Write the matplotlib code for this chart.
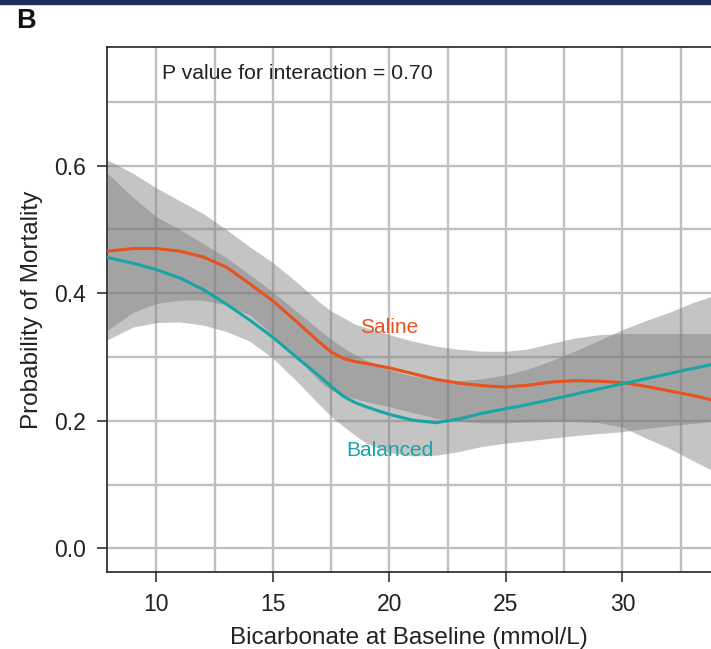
import matplotlib
matplotlib.use("Agg")
import matplotlib.pyplot as plt
from matplotlib.ticker import MultipleLocator
from matplotlib.patches import Rectangle

plt.rcParams['font.family'] = ['Liberation Sans', 'DejaVu Sans']

# bicarbonate at baseline (mmol/L)
bicarb = [7.9, 9, 10, 11, 12, 13, 14, 15, 16, 17, 17.5, 18, 18.5, 19, 20, 21, 22,
          23, 24, 25, 26, 27, 28, 29, 30, 31, 32, 33, 33.8]

# saline arm: fitted probability of mortality and 95% band
saline = [0.466, 0.470, 0.470, 0.466, 0.457, 0.441, 0.415, 0.388, 0.356,
          0.323, 0.308, 0.298, 0.293, 0.290, 0.283, 0.274, 0.265, 0.259, 0.255, 0.253,
          0.256, 0.261, 0.263, 0.262, 0.260, 0.254, 0.247, 0.240, 0.233]
saline_hi = [0.609, 0.588, 0.565, 0.545, 0.525, 0.500, 0.473, 0.448, 0.418,
             0.386, 0.372, 0.362, 0.352, 0.346, 0.335, 0.325, 0.317, 0.312, 0.309, 0.309,
             0.313, 0.322, 0.330, 0.335, 0.337, 0.337, 0.337, 0.337, 0.337]
saline_lo = [0.342, 0.370, 0.384, 0.389, 0.389, 0.382, 0.366, 0.335, 0.300,
             0.262, 0.248, 0.240, 0.235, 0.230, 0.222, 0.213, 0.204, 0.199, 0.197, 0.197,
             0.198, 0.199, 0.199, 0.197, 0.190, 0.173, 0.157, 0.138, 0.123]

# balanced arm
balanced = [0.456, 0.447, 0.437, 0.424, 0.406, 0.383, 0.358, 0.331, 0.300,
            0.270, 0.254, 0.239, 0.229, 0.222, 0.210, 0.201, 0.197, 0.203, 0.212, 0.219,
            0.226, 0.234, 0.242, 0.250, 0.258, 0.266, 0.274, 0.282, 0.288]
balanced_hi = [0.588, 0.550, 0.520, 0.500, 0.478, 0.456, 0.429, 0.402, 0.372,
               0.342, 0.328, 0.315, 0.304, 0.295, 0.280, 0.270, 0.265, 0.263, 0.266, 0.272,
               0.282, 0.295, 0.310, 0.326, 0.343, 0.357, 0.370, 0.385, 0.395]
balanced_lo = [0.327, 0.347, 0.354, 0.355, 0.350, 0.340, 0.325, 0.298, 0.263,
               0.225, 0.207, 0.192, 0.178, 0.165, 0.150, 0.145, 0.146, 0.152, 0.160, 0.165,
               0.169, 0.173, 0.177, 0.180, 0.183, 0.188, 0.192, 0.196, 0.199]

xticks = [10, 15, 20, 25, 30]
yticks = [0.0, 0.2, 0.4, 0.6]

orange = "#e8521e"
teal = "#17a5a7"
text_col = "#222222"

fig = plt.figure(figsize=(7.11, 6.49), dpi=100)
ax = fig.add_axes([107 / 711, 77 / 649, 604 / 711, 525 / 649])

# navy strip along the top edge and panel letter
fig.patches.append(Rectangle((0, 1 - 4 / 649), 1, 4 / 649, transform=fig.transFigure,
                             color="#1e2d5e", zorder=5))
fig.text(25.5 / 711, 1 - 21 / 649, "B", fontsize=19.5, fontweight="bold",
         ha="center", va="center", color="#111111")

ax.set_xlim(7.88, 33.8)
ax.set_ylim(-0.037, 0.786)

# light grid every 2.5 mmol/L and every 0.1
ax.xaxis.set_minor_locator(MultipleLocator(2.5))
ax.yaxis.set_minor_locator(MultipleLocator(0.1))
ax.grid(which="both", color="#c0c0c0", linewidth=1.7, zorder=0)
ax.set_axisbelow(True)

band_col = "#7a7a7a"
ax.fill_between(bicarb, saline_lo, saline_hi, color=band_col, alpha=0.44,
                linewidth=0, zorder=1)
ax.fill_between(bicarb, balanced_lo, balanced_hi, color=band_col, alpha=0.44,
                linewidth=0, zorder=1)

ax.plot(bicarb, saline, color=orange, linewidth=2.2, zorder=3)
ax.plot(bicarb, balanced, color=teal, linewidth=2.2, zorder=3)

ax.text(19.98, 0.346, "Saline", color=orange, fontsize=15, ha="center", va="center")
ax.text(20.0, 0.154, "Balanced", color=teal, fontsize=15, ha="center", va="center")
ax.text(10.24, 0.745, "P value for interaction = 0.70", color=text_col,
        fontsize=15.3, ha="left", va="center")

ax.set_xticks(xticks)
ax.set_yticks(yticks)
ax.set_yticklabels([f"{v:.1f}" for v in yticks])
ax.tick_params(which="major", direction="out", length=7, width=1.1,
               labelsize=16.5, colors=text_col, pad=8)
ax.tick_params(which="minor", length=0)

ax.set_xlabel("Bicarbonate at Baseline (mmol/L)", fontsize=17.5, color=text_col, labelpad=8)
ax.set_ylabel("Probability of Mortality", fontsize=17.5, color=text_col, labelpad=8)

for side in ["left", "bottom", "top"]:
    ax.spines[side].set_color("#222222")
    ax.spines[side].set_linewidth(1.2)
ax.spines["right"].set_visible(False)

fig.savefig("out.png", dpi=100)
